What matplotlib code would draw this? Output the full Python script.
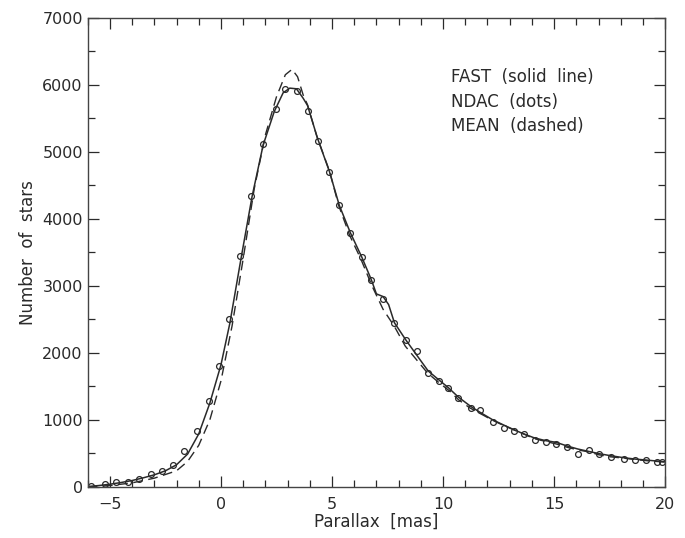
import numpy as np
import matplotlib.pyplot as plt
from matplotlib.ticker import MultipleLocator

# NDAC (dots)
ndac_x = [-5.83, -5.21, -4.73, -4.2, -3.71, -3.15, -2.66, -2.15, -1.65, -1.08,
          -0.55, -0.08, 0.37, 0.87, 1.35, 1.88, 2.48, 2.9, 3.41, 3.9,
          4.35, 4.88, 5.33, 5.83, 6.34, 6.76, 7.31, 7.81, 8.33, 8.85,
          9.33, 9.8, 10.24, 10.69, 11.25, 11.68, 12.24, 12.75, 13.21, 13.64,
          14.12, 14.62, 15.09, 15.59, 16.07, 16.55, 17.04, 17.55, 18.14, 18.65,
          19.16, 19.65, 19.85]
ndac_y = [20, 45, 70, 80, 120, 195, 240, 330, 530, 835,
          1280, 1805, 2500, 3448, 4333, 5110, 5645, 5940, 5910, 5616,
          5154, 4700, 4200, 3790, 3437, 3080, 2801, 2450, 2194, 2030,
          1697, 1580, 1478, 1323, 1180, 1144, 970, 885, 830, 783,
          706, 664, 640, 602, 495, 547, 490, 440, 415, 403,
          408, 378, 369]

# FAST (solid line)
fast_x = [-6, -5.5, -5, -4.5, -4, -3.5, -3, -2.5, -2, -1.5, -1, -0.5, 0, 0.4,
          0.9, 1.4, 1.9, 2.4, 2.8, 3.1, 3.4, 3.7, 3.9, 4.35, 4.88, 5.33, 5.83,
          6.34, 6.76, 7.0, 7.3, 7.55, 7.81, 8.33, 8.85, 9.33, 9.8, 10.24, 10.69,
          11.25, 11.68, 12.24, 12.75, 13.21, 13.64, 14.12, 14.62, 15.09, 15.59,
          16.07, 16.55, 17.04, 17.55, 18.14, 18.65, 19.16, 19.65, 20]
fast_y = [5, 20, 40, 65, 95, 135, 180, 240, 330, 490, 790, 1250, 1820, 2440,
          3400, 4330, 5100, 5600, 5880, 5950, 5940, 5800, 5690, 5200, 4710, 4200, 3790,
          3430, 3100, 2880, 2840, 2720, 2450, 2190, 1950, 1730, 1600, 1480, 1340,
          1200, 1110, 1000, 920, 850, 790, 730, 690, 665, 610,
          565, 530, 495, 465, 435, 415, 400, 385, 375]

# MEAN (dashed)
mean_x = [-6, -5, -4, -3, -2, -1.5, -1, -0.5, 0, 0.5, 1, 1.5, 2, 2.5,
          2.9, 3.2, 3.45, 3.7, 3.9, 4.3, 4.9, 5.3, 5.8, 6.3, 6.8, 7.3, 7.8,
          8.3, 8.8, 9.3, 9.8, 10.3, 10.7, 11.2, 11.7, 12.2, 12.7, 13.2, 13.7,
          14.1, 14.6, 15.1, 15.6, 16.1, 16.6, 17.0, 17.5, 18.1, 18.6, 19.2, 19.6, 20]
mean_y = [0, 20, 60, 130, 240, 380, 620, 1000, 1580, 2400, 3400, 4450, 5250, 5820,
          6150, 6230, 6120, 5850, 5700, 5250, 4700, 4200, 3750, 3400, 3000, 2650, 2400,
          2100, 1900, 1700, 1560, 1430, 1300, 1180, 1090, 1000, 920, 850, 780,
          720, 680, 640, 590, 550, 520, 480, 450, 430, 410, 390, 380, 370]

legend_lines = ['FAST  (solid  line)', 'NDAC  (dots)', 'MEAN  (dashed)']

fig = plt.figure(figsize=(6.85, 5.38), dpi=100)
ax = fig.add_axes([0.128, 0.095, 0.843, 0.872])

ink = '#2a2a2a'
ax.plot(fast_x, fast_y, color=ink, lw=1.1)
ax.plot(mean_x, mean_y, color=ink, lw=1.0, ls=(0, (7, 4)))
ax.plot(ndac_x, ndac_y, 'o', ms=4.2, mfc='none', mec=ink, mew=0.9)

for i, t in enumerate(legend_lines):
    ax.text(10.35, 6120 - i * 370, t, fontsize=12, color=ink, va='center', ha='left')

ax.set_xlim(-6, 20)
ax.set_ylim(0, 7000)
ax.xaxis.set_major_locator(MultipleLocator(5))
ax.xaxis.set_minor_locator(MultipleLocator(1))
ax.yaxis.set_major_locator(MultipleLocator(1000))
ax.yaxis.set_minor_locator(MultipleLocator(500))
ax.tick_params(which='both', direction='in', top=True, right=True, colors=ink,
               labelsize=11.5, width=0.9)
ax.tick_params(which='major', length=8)
ax.tick_params(which='minor', length=5)
ax.tick_params(axis='x', which='major', pad=7)
for s in ax.spines.values():
    s.set_color('#444444')
    s.set_linewidth(1.0)

ax.set_xlabel('Parallax  [mas]', fontsize=12, color=ink, labelpad=1)
ax.set_ylabel('Number  of  stars', fontsize=12, color=ink, labelpad=4)

fig.savefig('out.png', dpi=100)
